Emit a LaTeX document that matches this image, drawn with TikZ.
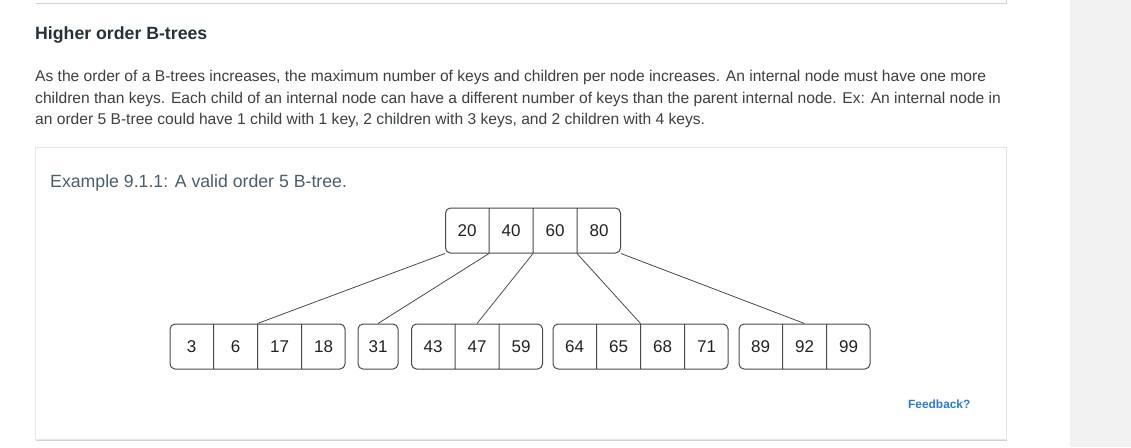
\documentclass[tikz,border=0pt]{standalone}
\usepackage{fontspec}
\setmainfont{Liberation Sans}
\usetikzlibrary{shapes.multipart}

\definecolor{panelgray}{HTML}{F2F2F2}
\definecolor{cardline}{HTML}{E6E6E6}
\definecolor{cardshadow}{HTML}{D2D2D2}
\definecolor{titletext}{HTML}{263238}
\definecolor{bodytext}{HTML}{3C4043}
\definecolor{captiontext}{HTML}{4A5F6B}
\definecolor{linkblue}{HTML}{2B7BD4}
\definecolor{nodeline}{HTML}{4A4A4A}
\definecolor{keytext}{HTML}{222222}

\newcommand{\bkey}[1]{\makebox[43pt]{\rule[-16.5pt]{0pt}{45pt}#1}}

\tikzset{
  btnode/.style={rectangle split, rectangle split horizontal,
    rectangle split parts=#1, draw=nodeline, line width=1pt,
    rounded corners=5pt, inner xsep=0pt, inner ysep=0pt,
    font=\fontsize{17}{20}\selectfont, text=keytext},
  btleaf/.style={rectangle, draw=nodeline, line width=1pt,
    rounded corners=5pt, inner xsep=0pt, inner ysep=0pt,
    font=\fontsize{17}{20}\selectfont, text=keytext},
  treeedge/.style={draw=nodeline, line width=0.8pt},
  bodyline/.style={anchor=base west, inner sep=0pt, text=bodytext,
    font=\fontsize{15.6}{18}\selectfont}
}

\begin{document}
\begin{tikzpicture}[x=1pt,y=-1pt]
\useasboundingbox (0,0) rectangle (1131,447);
\fill[white] (0,0) rectangle (1070,447);
\fill[panelgray] (1070,0) rectangle (1131,447);

% cards
\fill[cardshadow] (36,-10) rectangle (1007,4);
\fill[white] (35,-10) rectangle (1006,2.5);
\fill[cardshadow] (36,148) rectangle (1007,440.5);
\draw[cardline, fill=white] (35,147) rectangle (1006,439);

% texts
\node[anchor=base west, inner sep=0pt, text=titletext,
  font=\fontsize{17.7}{20}\selectfont\bfseries] (title) at (35,39) {Higher order B-trees};
\node[bodyline] (line1) at (35,81) {As the order of a B-trees increases, the maximum number of keys and children per node increases. An internal node must have one more};
\node[bodyline] (line2) at (35,103) {children than keys. Each child of an internal node can have a different number of keys than the parent internal node. Ex: An internal node in};
\node[bodyline] (line3) at (35,124) {an order 5 B-tree could have 1 child with 1 key, 2 children with 3 keys, and 2 children with 4 keys.};
\node[anchor=base west, inner sep=0pt, text=captiontext,
  font=\fontsize{17.7}{22}\selectfont] (caption) at (50,187) {Example 9.1.1: A valid order 5 B-tree.};
\node[anchor=base west, inner sep=0pt, text=linkblue,
  font=\fontsize{11.9}{15}\selectfont\bfseries] (feedback) at (908,408) {Feedback?};

% tree
\node[btnode=4] (root) at (533,230.5) {\bkey{20}\nodepart{two}\bkey{40}\nodepart{three}\bkey{60}\nodepart{four}\bkey{80}};

\node[btnode=4] (leaf1) at (257.5,346.5) {\bkey{3}\nodepart{two}\bkey{6}\nodepart{three}\bkey{17}\nodepart{four}\bkey{18}};
\node[btleaf] (leaf2) at (378,346.5) {\makebox[40pt]{\rule[-16.5pt]{0pt}{45pt}31}};
\node[btnode=3] (leaf3) at (477,346.5) {\bkey{43}\nodepart{two}\bkey{47}\nodepart{three}\bkey{59}};
\node[btnode=4] (leaf4) at (640.5,346.5) {\bkey{64}\nodepart{two}\bkey{65}\nodepart{three}\bkey{68}\nodepart{four}\bkey{71}};
\node[btnode=3] (leaf5) at (804.5,346.5) {\bkey{89}\nodepart{two}\bkey{92}\nodepart{three}\bkey{99}};

\draw[treeedge] (root.south west) -- (leaf1.north);
\draw[treeedge] (root.one split south) -- (leaf2.north);
\draw[treeedge] (root.two split south) -- (leaf3.north);
\draw[treeedge] (root.three split south) -- (leaf4.north);
\draw[treeedge] (root.south east) -- (leaf5.north);
\end{tikzpicture}
\end{document}
